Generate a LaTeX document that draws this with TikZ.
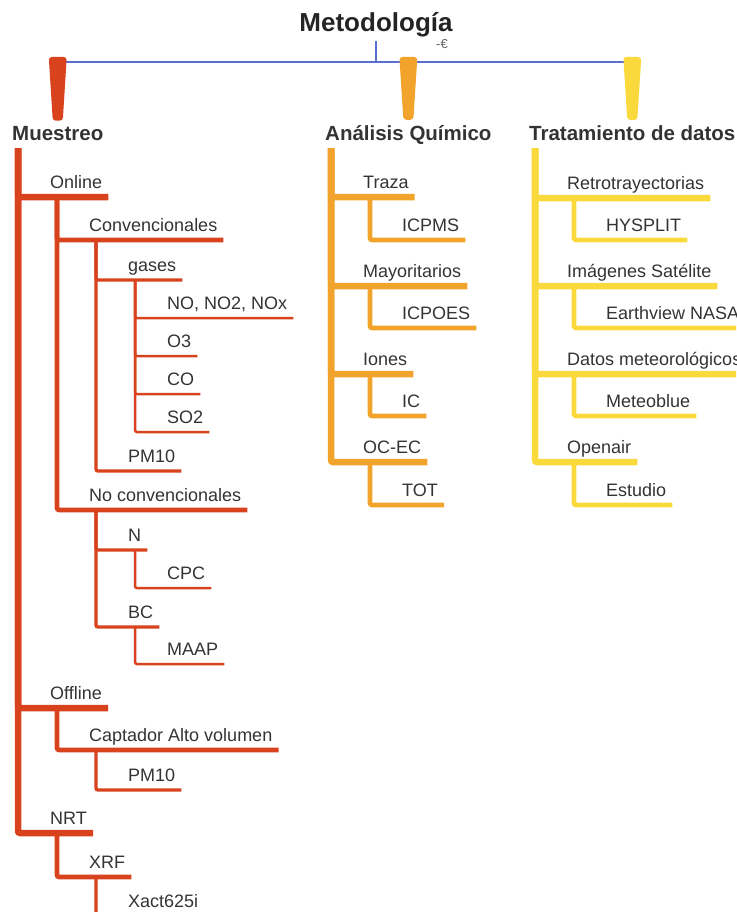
\documentclass[tikz,border=0pt]{standalone}
\usepackage{fontspec}
\setmainfont{Liberation Sans}
\usetikzlibrary{calc}

\definecolor{rojo}{HTML}{D8431E}
\definecolor{naranja}{HTML}{F1A32B}
\definecolor{amarillo}{HTML}{F9D93C}
\definecolor{azul}{HTML}{5B6FD2}
\definecolor{texto}{HTML}{333333}

\begin{document}
\begin{tikzpicture}[x=1pt, y=-1pt,
	hoja/.style={anchor=south west, inner xsep=6pt, inner ysep=8pt, text depth=0pt, text=texto, font=\fontsize{18}{20}\selectfont},
	categoria/.style={anchor=base west, inner xsep=0pt, inner ysep=7pt, text depth=0pt, text=texto, font=\bfseries\fontsize{20.5}{23}\selectfont},
	rama/.style={rounded corners=2pt},
	nivel1/.style={rama, line width=6.5pt},
	nivel2/.style={rama, line width=4.6pt},
	nivel3/.style={rama, line width=3.4pt},
	nivel4/.style={rama, line width=2.5pt}]
	\useasboundingbox (0,0) rectangle (736,912);
	\clip (0,0) rectangle (736,912);

	% raiz
	\node[anchor=base, text=texto!70!black, font=\bfseries\fontsize{26}{28}\selectfont] (titulo) at (376,32) {Metodología};
	\node[text=gray!80!black, font=\fontsize{13}{13}\selectfont] (plegar) at (442,44) {-€};
	\coordinate (barra) at (0,62);

	% categorias
	\node[categoria] (muestreo) at (12,141) {Muestreo};
	\node[categoria] (analisis) at (325,141) {Análisis Químico};
	\node[categoria] (tratam) at (529,141) {Tratamiento de datos};

	\draw[azul, line width=1.6pt] (titulo.south) -- (titulo.south |- barra);
	\draw[azul, line width=1.6pt] (muestreo.north |- barra) -- (tratam.north |- barra);
	\fill[rojo, rounded corners=3pt] ($(muestreo.north)+(-5,1)$) -- ($(muestreo.north |- barra)+(-9,-5)$) -- ($(muestreo.north |- barra)+(9,-5)$) -- ($(muestreo.north)+(5,1)$) -- cycle;
	\fill[naranja, rounded corners=3pt] ($(analisis.north)+(-5,1)$) -- ($(analisis.north |- barra)+(-9,-5)$) -- ($(analisis.north |- barra)+(9,-5)$) -- ($(analisis.north)+(5,1)$) -- cycle;
	\fill[amarillo, rounded corners=3pt] ($(tratam.north)+(-5,1)$) -- ($(tratam.north |- barra)+(-9,-5)$) -- ($(tratam.north |- barra)+(9,-5)$) -- ($(tratam.north)+(5,1)$) -- cycle;

	% Muestreo
	\node[hoja] (online) at (44,197) {Online};
	\node[hoja] (conv) at (83,240) {Convencionales};
	\node[hoja] (gases) at (122,280) {gases};
	\node[hoja] (nox) at (161,318) {NO, NO2, NOx};
	\node[hoja] (ozono) at (161,356) {O3};
	\node[hoja] (co) at (161,394) {CO};
	\node[hoja] (so) at (161,432) {SO2};
	\node[hoja] (pmA) at (122,471) {PM10};
	\node[hoja] (noconv) at (83,510) {No convencionales};
	\node[hoja] (n) at (122,550) {N};
	\node[hoja] (cpc) at (161,588) {CPC};
	\node[hoja] (bc) at (122,627) {BC};
	\node[hoja] (maap) at (161,664) {MAAP};
	\node[hoja] (offline) at (44,708) {Offline};
	\node[hoja] (captador) at (83,750) {Captador Alto volumen};
	\node[hoja] (pmB) at (122,790) {PM10};
	\node[hoja] (nrt) at (44,833) {NRT};
	\node[hoja] (xrf) at (83,877) {XRF};
	\node[hoja] (xact) at (122,916) {Xact625i};

	\draw[rojo, nivel1] ([xshift=6pt]muestreo.south west) |- (online.south east);
	\draw[rojo, nivel1] ([xshift=6pt]muestreo.south west) |- (offline.south east);
	\draw[rojo, nivel1] ([xshift=6pt]muestreo.south west) |- (nrt.south east);
	\draw[rojo, nivel2] ([xshift=13pt]online.south west) |- (conv.south east);
	\draw[rojo, nivel2] ([xshift=13pt]online.south west) |- (noconv.south east);
	\draw[rojo, nivel2] ([xshift=13pt]offline.south west) |- (captador.south east);
	\draw[rojo, nivel2] ([xshift=13pt]nrt.south west) |- (xrf.south east);
	\draw[rojo, nivel3] ([xshift=13pt]conv.south west) |- (gases.south east);
	\draw[rojo, nivel3] ([xshift=13pt]conv.south west) |- (pmA.south east);
	\draw[rojo, nivel3] ([xshift=13pt]noconv.south west) |- (n.south east);
	\draw[rojo, nivel3] ([xshift=13pt]noconv.south west) |- (bc.south east);
	\draw[rojo, nivel3] ([xshift=13pt]captador.south west) |- (pmB.south east);
	\draw[rojo, nivel3] ([xshift=13pt]xrf.south west) |- (xact.south east);
	\draw[rojo, nivel4] ([xshift=13pt]gases.south west) |- (nox.south east);
	\draw[rojo, nivel4] ([xshift=13pt]gases.south west) |- (ozono.south east);
	\draw[rojo, nivel4] ([xshift=13pt]gases.south west) |- (co.south east);
	\draw[rojo, nivel4] ([xshift=13pt]gases.south west) |- (so.south east);
	\draw[rojo, nivel4] ([xshift=13pt]n.south west) |- (cpc.south east);
	\draw[rojo, nivel4] ([xshift=13pt]bc.south west) |- (maap.south east);

	% Analisis Quimico
	\node[hoja] (traza) at (357,197) {Traza};
	\node[hoja] (icpms) at (396,240) {ICPMS};
	\node[hoja] (mayor) at (357,286) {Mayoritarios};
	\node[hoja] (icpoes) at (396,328) {ICPOES};
	\node[hoja] (iones) at (357,374) {Iones};
	\node[hoja] (ic) at (396,416) {IC};
	\node[hoja] (ocec) at (357,462) {OC-EC};
	\node[hoja] (tot) at (396,505) {TOT};

	\draw[naranja, nivel1] ([xshift=6pt]analisis.south west) |- (traza.south east);
	\draw[naranja, nivel1] ([xshift=6pt]analisis.south west) |- (mayor.south east);
	\draw[naranja, nivel1] ([xshift=6pt]analisis.south west) |- (iones.south east);
	\draw[naranja, nivel1] ([xshift=6pt]analisis.south west) |- (ocec.south east);
	\draw[naranja, nivel2] ([xshift=13pt]traza.south west) |- (icpms.south east);
	\draw[naranja, nivel2] ([xshift=13pt]mayor.south west) |- (icpoes.south east);
	\draw[naranja, nivel2] ([xshift=13pt]iones.south west) |- (ic.south east);
	\draw[naranja, nivel2] ([xshift=13pt]ocec.south west) |- (tot.south east);

	% Tratamiento de datos
	\node[hoja] (retro) at (561,198) {Retrotrayectorias};
	\node[hoja] (hysplit) at (600,240) {HYSPLIT};
	\node[hoja] (imagenes) at (561,286) {Imágenes Satélite};
	\node[hoja] (earth) at (600,328) {Earthview NASA};
	\node[hoja] (meteo) at (561,374) {Datos meteorológicos};
	\node[hoja] (meteoblue) at (600,416) {Meteoblue};
	\node[hoja] (openair) at (561,462) {Openair};
	\node[hoja] (estudio) at (600,505) {Estudio};

	\draw[amarillo, nivel1] ([xshift=6pt]tratam.south west) |- (retro.south east);
	\draw[amarillo, nivel1] ([xshift=6pt]tratam.south west) |- (imagenes.south east);
	\draw[amarillo, nivel1] ([xshift=6pt]tratam.south west) |- (meteo.south east);
	\draw[amarillo, nivel1] ([xshift=6pt]tratam.south west) |- (openair.south east);
	\draw[amarillo, nivel2] ([xshift=13pt]retro.south west) |- (hysplit.south east);
	\draw[amarillo, nivel2] ([xshift=13pt]imagenes.south west) |- (earth.south east);
	\draw[amarillo, nivel2] ([xshift=13pt]meteo.south west) |- (meteoblue.south east);
	\draw[amarillo, nivel2] ([xshift=13pt]openair.south west) |- (estudio.south east);
\end{tikzpicture}
\end{document}
